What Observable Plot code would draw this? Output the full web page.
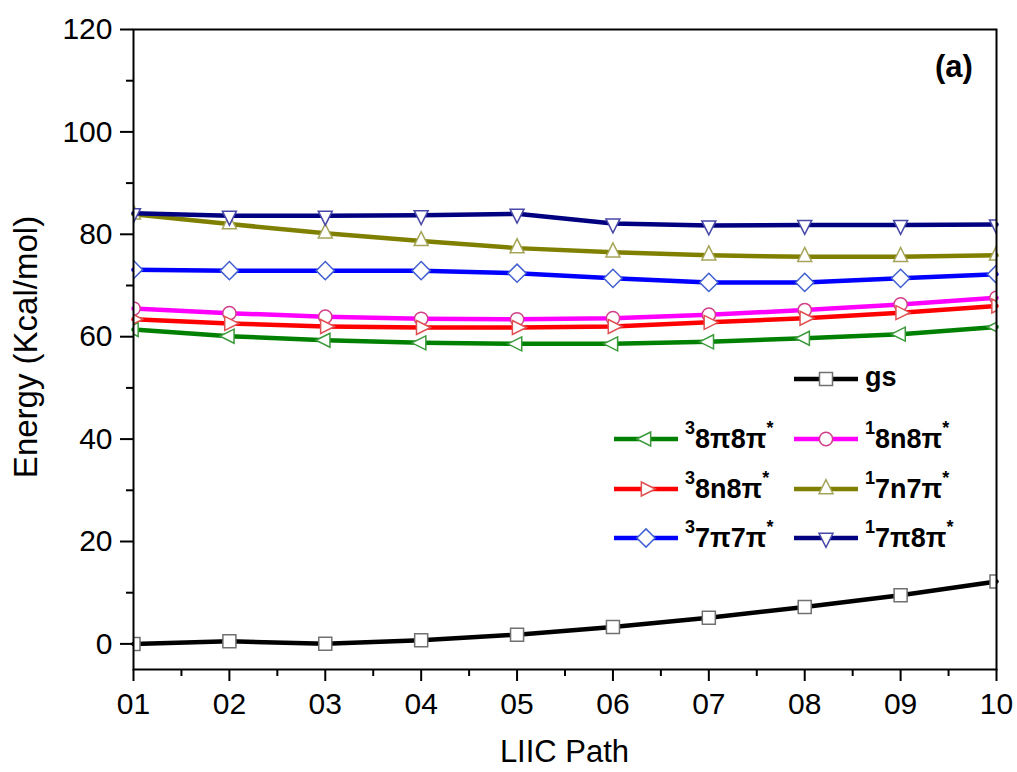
<!DOCTYPE html>
<html>
<head>
<meta charset="utf-8">
<script src="https://cdn.jsdelivr.net/npm/d3@7"></script>
<script src="https://cdn.jsdelivr.net/npm/@observablehq/plot@0.6"></script>
<style>
  body { margin: 0; background: #fff; }
  #chart { width: 1017px; height: 772px; }
</style>
</head>
<body>
<div id="chart"></div>
<script>
// ---------- data ----------
const pathSteps = [1, 2, 3, 4, 5, 6, 7, 8, 9, 10];
const pathLabels = ["01", "02", "03", "04", "05", "06", "07", "08", "09", "10"];
const gs       = [0, 0.5, 0.05, 0.7, 1.8, 3.3, 5.1, 7.2, 9.5, 12.2];
const t8pi8pi  = [61.4, 60.1, 59.3, 58.8, 58.6, 58.6, 59.0, 59.7, 60.5, 61.9];
const s8n8pi   = [65.5, 64.6, 63.9, 63.5, 63.4, 63.6, 64.3, 65.2, 66.3, 67.6];
const t8n8pi   = [63.4, 62.6, 62.0, 61.8, 61.8, 62.0, 62.8, 63.6, 64.7, 66.0];
const s7n7pi   = [83.9, 82.0, 80.2, 78.7, 77.3, 76.5, 75.9, 75.6, 75.6, 75.9];
const t7pi7pi  = [73.1, 72.9, 72.9, 72.9, 72.4, 71.4, 70.6, 70.6, 71.4, 72.2];
const s7pi8pi  = [84.1, 83.6, 83.6, 83.7, 84.0, 82.1, 81.7, 81.8, 81.8, 81.9];
const yMajorTicks = [0, 20, 40, 60, 80, 100, 120];
const yMinorTicks = [10, 30, 50, 70, 90, 110];
const xMinorTicks = [1.5, 2.5, 3.5, 4.5, 5.5, 6.5, 7.5, 8.5, 9.5];

// ---------- symbols ----------
const poly = (pts) => ({
  draw(ctx, size) {
    const r = Math.sqrt(size / Math.PI);
    pts.forEach(([px, py], i) => i ? ctx.lineTo(px * r, py * r) : ctx.moveTo(px * r, py * r));
    ctx.closePath();
  }
});
const triLeft  = poly([[-4/3, 0], [2/3, -1], [2/3, 1]]);
const triRight = poly([[4/3, 0], [-2/3, -1], [-2/3, 1]]);
const triUp    = poly([[0, -4/3], [-1, 2/3], [1, 2/3]]);
const triDown  = poly([[0, 4/3], [-1, -2/3], [1, -2/3]]);
const diamond  = poly([[0, -1.3], [1.3, 0], [0, 1.3], [-1.3, 0]]);
const square   = poly([[-0.93, -0.93], [0.93, -0.93], [0.93, 0.93], [-0.93, 0.93]]);
const circle   = { draw(ctx, size) { const r = Math.sqrt(size / Math.PI) * 0.95; ctx.moveTo(r, 0); ctx.arc(0, 0, r, 0, 2 * Math.PI); } };

const series = [
  { key: "gs",  values: gs,      color: "#000000", mstroke: "#707070", symbol: square,   sup: null, main: "gs",   lx: 794, ly: 379 },
  { key: "t1",  values: t8pi8pi, color: "#008000", mstroke: "#3c9a3c", symbol: triLeft,  sup: "3",  main: "8π8π", lx: 614, ly: 439 },
  { key: "s1",  values: s8n8pi,  color: "#ff00ff", mstroke: "#d0408a", symbol: circle,   sup: "1",  main: "8n8π", lx: 794, ly: 439 },
  { key: "t2",  values: t8n8pi,  color: "#ff0000", mstroke: "#e05050", symbol: triRight, sup: "3",  main: "8n8π", lx: 614, ly: 489 },
  { key: "s2",  values: s7n7pi,  color: "#808000", mstroke: "#a5a55a", symbol: triUp,    sup: "1",  main: "7n7π", lx: 794, ly: 489 },
  { key: "t3",  values: t7pi7pi, color: "#0000ff", mstroke: "#4060d0", symbol: diamond,  sup: "3",  main: "7π7π", lx: 614, ly: 538 },
  { key: "s3",  values: s7pi8pi, color: "#000080", mstroke: "#4848a8", symbol: triDown,  sup: "1",  main: "7π8π", lx: 794, ly: 538 }
];

const seriesMarks = series.flatMap(s => {
  const rows = pathSteps.map((x, i) => ({ x, y: s.values[i] }));
  return [
    Plot.line(rows, { x: "x", y: "y", stroke: s.color, strokeWidth: 4.5 }),
    Plot.dot(rows, { x: "x", y: "y", r: 7, symbol: s.symbol, fill: "white", stroke: s.mstroke, strokeWidth: 1.5, clip: true })
  ];
});

const FONT = "'Liberation Sans', Arial, Helvetica, sans-serif";

const plot = Plot.plot({
  width: 1017,
  height: 772,
  marginLeft: 133,
  marginRight: 21,
  marginTop: 29,
  marginBottom: 103,
  x: { domain: [1, 10] },
  y: { domain: [-5, 120] },
  style: { fontFamily: FONT, fontSize: "30px", background: "white", color: "black", overflow: "visible" },
  marks: [
    Plot.axisY({ ticks: yMajorTicks, tickSize: 13, tickPadding: 8, fontSize: 30, strokeWidth: 2, label: null }),
    Plot.axisY({ ticks: yMinorTicks, tickSize: 7, tickFormat: () => "", strokeWidth: 2, label: null }),
    Plot.axisX({ ticks: pathSteps, tickSize: 12, tickPadding: 11, fontSize: 30, strokeWidth: 2, label: null,
                 tickFormat: d => pathLabels[pathSteps.indexOf(d)] }),
    Plot.axisX({ ticks: xMinorTicks, tickSize: 7, tickFormat: () => "", strokeWidth: 2, label: null }),
    ...seriesMarks,
    Plot.frame({ stroke: "black", strokeWidth: 2 })
  ]
});

document.getElementById("chart").appendChild(plot);

// ---------- titles & legend ----------
const svg = d3.select(plot);
svg.append("text")
  .attr("x", 564.5).attr("y", 762)
  .attr("text-anchor", "middle")
  .attr("font-family", FONT).attr("font-size", 31)
  .attr("fill", "black")
  .text("LIIC Path");
svg.append("text")
  .attr("transform", "translate(37,347) rotate(-90)")
  .attr("text-anchor", "middle")
  .attr("font-family", FONT).attr("font-size", 33)
  .attr("fill", "black")
  .text("Energy (Kcal/mol)");
svg.append("text")
  .attr("x", 954).attr("y", 77)
  .attr("text-anchor", "middle")
  .attr("font-family", FONT).attr("font-size", 31).attr("font-weight", "bold")
  .attr("fill", "black")
  .text("(a)");

const lg = svg.append("g").attr("font-family", FONT).attr("font-weight", "bold")
  .attr("fill", "black").attr("text-anchor", "start");
series.forEach(s => {
  lg.append("line")
    .attr("x1", s.lx).attr("x2", s.lx + 64)
    .attr("y1", s.ly).attr("y2", s.ly)
    .attr("stroke", s.color).attr("stroke-width", 4.5);
  lg.append("path")
    .attr("d", d3.symbol(s.symbol, Math.PI * 49)())
    .attr("transform", `translate(${s.lx + 32},${s.ly})`)
    .attr("fill", "white").attr("stroke", s.mstroke).attr("stroke-width", 1.5);
  const t = lg.append("text")
    .attr("x", s.lx + 71).attr("y", s.ly + 9)
    .attr("text-anchor", "start")
    .attr("font-size", 27);
  if (s.sup) {
    t.append("tspan").attr("font-size", 18).attr("dy", -14).text(s.sup);
    t.append("tspan").attr("dy", 14).text(s.main);
    t.append("tspan").attr("font-size", 18).attr("dy", -14).text("*");
  } else {
    t.attr("y", s.ly + 7).text(s.main);
  }
});
</script>
</body>
</html>
